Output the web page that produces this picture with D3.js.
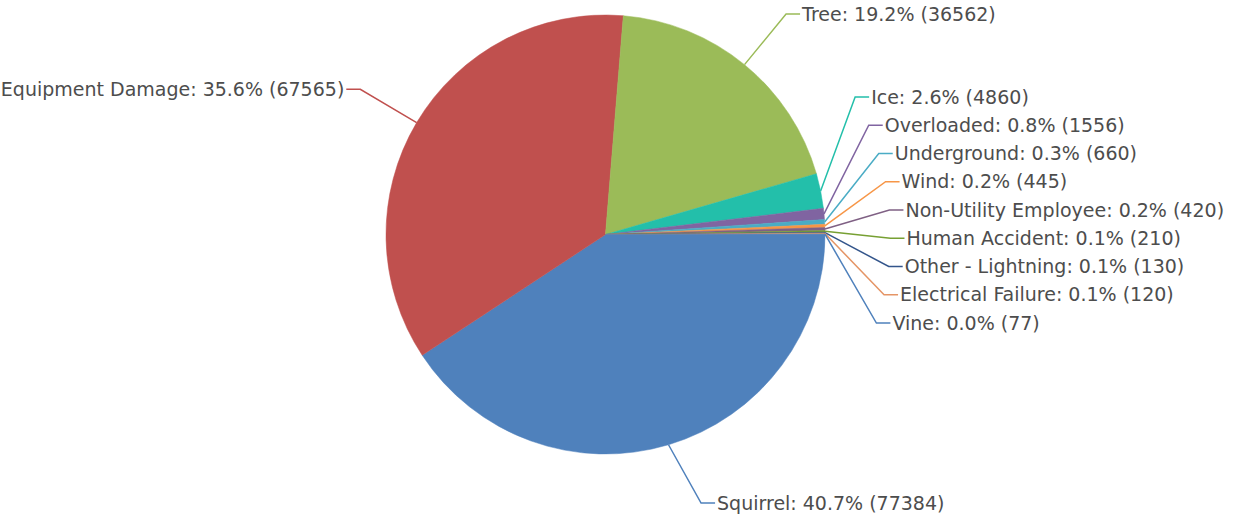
<!DOCTYPE html>
<html><head><meta charset="utf-8">
<script src="https://cdn.jsdelivr.net/npm/d3@7"></script>
<style>body{margin:0;background:#fff}svg{display:block}</style></head>
<body><svg id="c" width="1234" height="521"></svg>
<script>
const categories = ["Squirrel","Equipment Damage","Tree","Ice","Overloaded","Underground","Wind","Non-Utility Employee","Human Accident","Other - Lightning","Electrical Failure","Vine"];
const values = [77384,67565,36562,4860,1556,660,445,420,210,130,120,77];
const colors = ["#4F81BC","#C0504E","#9BBB58","#23BFAA","#8064A1","#4AACC5","#F79647","#7F6084","#77A033","#33558B","#E59566","#4F81BC"];

const W=1234,H=521,cx=605.5,cy=234.5,r=219.5,R=285,gap=28.25;
const svg=d3.select("#c");
const total=d3.sum(values);
const data=categories.map((c,i)=>({name:c,value:values[i],color:colors[i]}));
const pie=d3.pie().value(d=>d.value).sort(null).startAngle(Math.PI/2).endAngle(Math.PI/2+2*Math.PI);
const arcs=pie(data);
const arc=d3.arc().innerRadius(0).outerRadius(r);
const g=svg.append("g").attr("transform",`translate(${cx},${cy})`);
g.selectAll("path.s").data(arcs).join("path").attr("class","s")
  .attr("d",arc).attr("fill",d=>d.data.color).attr("stroke",d=>d.data.color).attr("stroke-width",0.5);

// labels
const labels=arcs.map(a=>{
  const m=(a.startAngle+a.endAngle)/2;
  return {a, m, side: Math.sin(m)>=0?1:-1, ny: -R*Math.cos(m)};
});
function layout(list){
  list.sort((p,q)=>p.ny-q.ny);
  let clusters=list.map(l=>({items:[l],min:l.ny,max:l.ny}));
  const pos=c=>{const n=c.items.length;const ctr=(c.min+c.max)/2+(n>1?4:0);let top=ctr-(n-1)*gap/2;
    const lo=14-cy, hi=H-18-cy; if(top<lo)top=lo; if(top+(n-1)*gap>hi)top=hi-(n-1)*gap; return top;};
  let changed=true;
  while(changed){
    changed=false;
    for(let i=0;i<clusters.length-1;i++){
      const A=clusters[i],B=clusters[i+1];
      const aBot=pos(A)+(A.items.length-1)*gap, bTop=pos(B);
      if(bTop-aBot<gap){
        clusters.splice(i,2,{items:A.items.concat(B.items),min:Math.min(A.min,B.min),max:Math.max(A.max,B.max)});
        changed=true;break;
      }
    }
  }
  clusters.forEach(c=>{const t=pos(c);c.items.forEach((l,k)=>l.y=t+k*gap);});
}
layout(labels.filter(l=>l.side>0));
layout(labels.filter(l=>l.side<0));
labels.forEach(l=>{l.x=l.side*Math.sqrt(Math.max(0,R*R-l.y*l.y));});

const lg=svg.append("g").attr("transform",`translate(${cx},${cy})`);
lg.selectAll("path.c").data(labels).join("path").attr("class","c")
  .attr("fill","none").attr("stroke",l=>l.a.data.color).attr("stroke-width",1.5)
  .attr("d",l=>{const ex=r*Math.sin(l.m),ey=-r*Math.cos(l.m);
    return `M${ex},${ey}L${l.x},${l.y}L${l.x+l.side*14},${l.y}`;});
lg.selectAll("text").data(labels).join("text")
  .attr("x",l=>l.x+l.side*16).attr("y",l=>l.y).attr("dy","0.35em")
  .attr("text-anchor",l=>l.side>0?"start":"end")
  .attr("font-family","'DejaVu Sans', sans-serif").attr("font-size",19).attr("fill","#4d4d4d")
  .text(l=>`${l.a.data.name}: ${(l.a.data.value/total*100).toFixed(1)}% (${l.a.data.value})`);
</script></body></html>
